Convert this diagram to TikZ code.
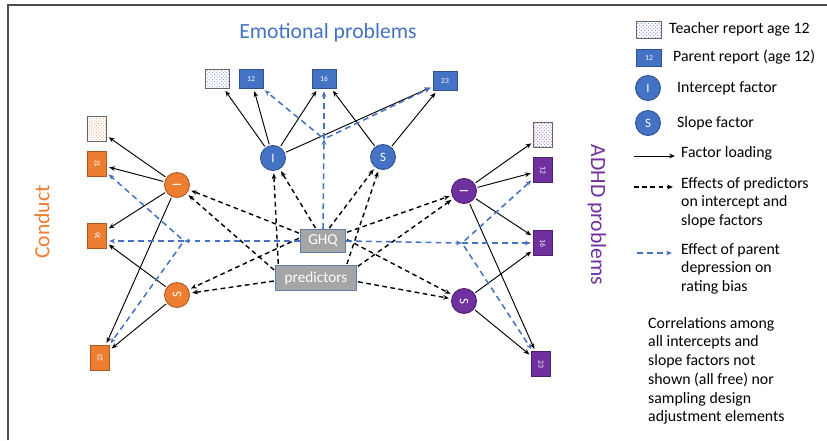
\documentclass[tikz,border=0pt]{standalone}
\usepackage{fontspec}
\setmainfont{Carlito}
\usetikzlibrary{arrows.meta,patterns}
\definecolor{cBlue}{HTML}{4472C4}
\definecolor{cBlueD}{HTML}{2F528F}
\definecolor{cOrange}{HTML}{ED7D31}
\definecolor{cOrangeD}{HTML}{AE5A21}
\definecolor{cPurple}{HTML}{7030A0}
\definecolor{cPurpleD}{HTML}{4B2069}
\definecolor{cGray}{HTML}{A5A5A5}
\definecolor{cGrayD}{HTML}{5E7EA8}
\definecolor{hBlue}{HTML}{6F8FD0}
\definecolor{hOrange}{HTML}{F0A070}
\definecolor{hPurple}{HTML}{9A70C8}

\begin{document}
\begin{tikzpicture}[x=0.03cm,y=-0.03cm,>={Stealth[length=5pt,width=4pt]},
  obs/.style={draw=#1D,fill=#1,text=white,line width=0.6pt,inner sep=0pt,
    minimum width=0.72cm,minimum height=0.57cm,font=\fontsize{6.5}{7}\selectfont},
  tch/.style={draw=black!60,pattern=crosshatch dots,pattern color=#1,line width=0.6pt,
    inner sep=0pt,minimum width=0.72cm,minimum height=0.57cm},
  fac/.style={circle,draw=#1D,fill=#1,text=white,line width=0.8pt,inner sep=0pt,
    minimum size=0.75cm,font=\fontsize{11}{12}\selectfont},
  pbox/.style={draw=cGrayD,fill=cGray,text=white,line width=0.8pt,inner sep=0pt,
    font=\fontsize{13}{14}\selectfont},
  ttl/.style={font=\fontsize{18.5}{20}\selectfont},
  lgd/.style={font=\fontsize{13.5}{16}\selectfont,anchor=west,inner sep=0pt,align=left},
  load/.style={->,line width=0.8pt,shorten >=2pt,shorten <=1pt},
  pdash/.style={->,line width=1.2pt,dash pattern=on 4pt off 3pt,shorten >=2pt,shorten <=1pt},
  bdash/.style={->,cBlue,line width=1.3pt,dash pattern=on 5pt off 3.5pt,shorten >=2pt}]
\useasboundingbox (0,0) rectangle (827,440);
% 外框
\draw[line width=1.3pt,black!70] (8,440) -- (8,5) -- (827,5);
% ---------- 标题 ----------
\node[ttl,text=cBlue] (tEmo) at (328,33) {Emotional problems};
\node[ttl,text=cOrange,rotate=90] (tCon) at (42,222) {Conduct};
\node[ttl,text=cPurple,rotate=-90] (tAdh) at (597,215) {ADHD problems};
% ---------- 情绪问题 ----------
\node[tch=hBlue] (eT) at (217,79) {};
\node[obs=cBlue] (e12) at (251,79) {12};
\node[obs=cBlue] (e16) at (324,79) {16};
\node[obs=cBlue] (e23) at (445,81) {23};
\node[fac=cBlue] (eI) at (273,158) {I};
\node[fac=cBlue] (eS) at (383,157) {S};
% ---------- 品行问题 ----------
\node[tch=hOrange,rotate=90,minimum width=0.75cm] (cT) at (97,129) {};
\node[obs=cOrange,rotate=90,minimum width=0.75cm] (c12) at (97,164) {12};
\node[obs=cOrange,rotate=90,minimum width=0.75cm] (c16) at (97,236) {16};
\node[obs=cOrange,rotate=90,minimum width=0.75cm] (c23) at (100,358) {23};
\node[fac=cOrange,rotate=90] (cI) at (177,185) {I};
\node[fac=cOrange,rotate=90] (cS) at (177,295) {S};
% ---------- ADHD ----------
\node[tch=hPurple,rotate=-90,minimum width=0.75cm] (aT) at (543,135) {};
\node[obs=cPurple,rotate=-90,minimum width=0.75cm] (a12) at (543,170) {12};
\node[obs=cPurple,rotate=-90,minimum width=0.75cm] (a16) at (543,243) {16};
\node[obs=cPurple,rotate=-90,minimum width=0.75cm] (a23) at (541,364) {23};
\node[fac=cPurple,rotate=-90] (aI) at (464,191) {I};
\node[fac=cPurple,rotate=-90] (aS) at (464,301) {S};
% ---------- 预测变量 ----------
\node[pbox,minimum width=1.35cm,minimum height=0.69cm] (ghq) at (323,241) {GHQ};
\node[pbox,minimum width=2.43cm,minimum height=0.75cm] (pred) at (316,278) {predictors};
% 因子载荷
\draw[load] (eI) -- (eT);
\draw[load] (eI) -- (e12);
\draw[load] (eI) -- (e16);
\draw[load] (eI) -- (e23);
\draw[load] (eS) -- (e16);
\draw[load] (eS) -- (e23);
\draw[load] (cI) -- (cT);
\draw[load] (cI) -- (c12);
\draw[load] (cI) -- (c16);
\draw[load] (cI) -- (c23);
\draw[load] (cS) -- (c16);
\draw[load] (cS) -- (c23);
\draw[load] (aI) -- (aT);
\draw[load] (aI) -- (a12);
\draw[load] (aI) -- (a16);
\draw[load] (aI) -- (a23);
\draw[load] (aS) -- (a16);
\draw[load] (aS) -- (a23);
% 预测变量对截距、斜率的效应
\draw[pdash] (ghq.162) -- (cI);
\draw[pdash] (pred.170) -- (cI);
\draw[pdash] (ghq.172) -- (cS);
\draw[pdash] (pred.184) -- (cS);
\draw[pdash] (ghq.120) -- (eI);
\draw[pdash] (pred.161) -- (eI);
\draw[pdash] (ghq.65) -- (eS);
\draw[pdash] (pred.23) -- (eS);
\draw[pdash] (ghq.20) -- (aI);
\draw[pdash] (pred.15) -- (aI);
\draw[pdash] (ghq.5) -- (aS);
\draw[pdash] (pred.-5) -- (aS);
% 父母抑郁对评分偏差的效应（分叉点）
\coordinate (eB) at (324,139);
\coordinate (cB) at (184,241);
\coordinate (aB) at (462,243);
\draw[bdash,shorten >=0pt] (ghq.north) -- (eB);
\draw[bdash] (eB) -- (e16);
\draw[bdash,shorten <=3pt] (eB) -- (e12);
\draw[bdash,shorten <=3pt] (eB) -- (e23);
\draw[bdash,shorten >=0pt] (ghq.west) -- (cB);
\draw[bdash] (cB) -- (c16.south |- cB);
\draw[bdash,shorten <=3pt] (cB) -- (c12);
\draw[bdash,shorten <=3pt] (cB) -- (c23);
\draw[bdash,shorten >=0pt] (ghq.east) -- (aB);
\draw[bdash] (aB) -- (a16.south |- aB);
\draw[bdash,shorten <=3pt] (aB) -- (a12);
\draw[bdash,shorten <=3pt] (aB) -- (a23);
% ---------- 图例 ----------
\node[tch=hBlue,minimum width=0.75cm,minimum height=0.51cm] (lgT) at (649,30) {};
\node[lgd] (lgTt) at (669,29) {Teacher report age 12};
\node[obs=cBlue,minimum width=0.75cm,minimum height=0.51cm] (lgP) at (649,58) {12};
\node[lgd] (lgPt) at (673,57) {Parent report (age 12)};
\node[fac=cBlue] (lgI) at (648,88) {I};
\node[lgd] (lgIt) at (677,88) {Intercept factor};
\node[fac=cBlue] (lgS) at (648,123) {S};
\node[lgd] (lgSt) at (677,123) {Slope factor};
\coordinate (lgA1) at (634,156);
\coordinate (lgA2) at (675,156);
\draw[load,shorten >=0pt,shorten <=0pt] (lgA1) -- (lgA2);
\node[lgd] (lgAt) at (681,153) {Factor loading};
\coordinate (lgB1) at (634,187);
\coordinate (lgB2) at (673,187);
\draw[pdash,shorten >=0pt,shorten <=0pt] (lgB1) -- (lgB2);
\node[lgd,anchor=north west] (lgBt) at (681,177) {Effects of predictors\\on intercept and\\slope factors};
\coordinate (lgC1) at (637,253);
\coordinate (lgC2) at (672,253);
\draw[bdash,shorten >=0pt] (lgC1) -- (lgC2);
\node[lgd,anchor=north west] (lgCt) at (681,243) {Effect of parent\\depression on\\rating bias};
\node[lgd,anchor=north west] (note) at (648,317) {Correlations among\\all intercepts and\\slope factors not\\shown (all free) nor\\sampling design\\adjustment elements};
\end{tikzpicture}
\end{document}
